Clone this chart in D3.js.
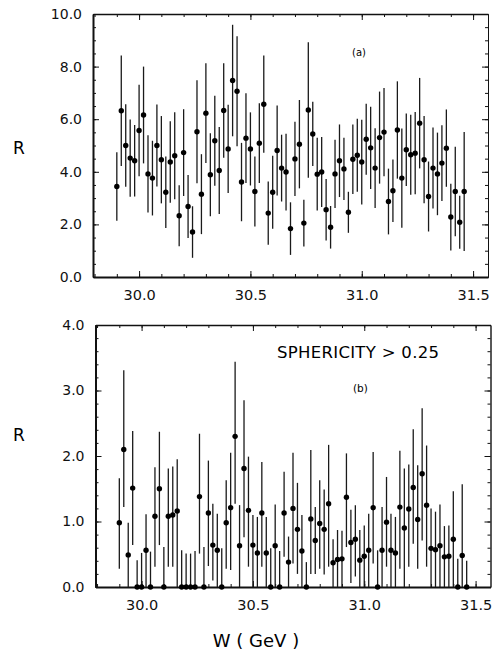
<!DOCTYPE html>
<html lang="en">
<head>
<meta charset="UTF-8">
<title>R vs W</title>
<script src="https://d3js.org/d3.v7.min.js"></script>
<style>
    body {
        margin: 0;
        background: #fff;
        font-family: "DejaVu Sans", sans-serif;
    }
    .axis text {
        font-family: "DejaVu Sans", sans-serif;
        font-size: 14px;
        fill: #111;
    }
    .axis line, .axis path {
        stroke: #111;
    }
</style>
</head>
<body>
<script>
// centre-of-mass energy of each bin (GeV), shared by both panels
const energies = [29.90,29.92,29.94,29.96,29.98,30.00,30.02,30.04,30.06,30.08,
    30.10,30.12,30.14,30.16,30.18,30.20,30.22,30.24,30.26,30.28,
    30.30,30.32,30.34,30.36,30.38,30.40,30.42,30.44,30.46,30.48,
    30.50,30.52,30.54,30.56,30.58,30.60,30.62,30.64,30.66,30.68,
    30.70,30.72,30.74,30.76,30.78,30.80,30.82,30.84,30.86,30.88,
    30.90,30.92,30.94,30.96,30.98,31.00,31.02,31.04,31.06,31.08,
    31.10,31.12,31.14,31.16,31.18,31.20,31.22,31.24,31.26,31.28,
    31.30,31.32,31.34,31.36,31.38,31.40,31.42,31.44,31.46];

// (a) all events
const rAll = [3.44,6.32,5.00,4.52,4.42,5.57,6.16,3.92,3.76,5.00,
    4.46,3.22,4.37,4.61,2.33,4.73,2.68,1.71,5.52,3.15,
    6.23,3.89,5.18,4.05,6.33,4.87,7.47,7.06,3.61,5.28,
    4.87,3.25,5.09,6.57,2.43,3.22,4.81,4.14,3.99,1.84,
    4.49,5.05,2.05,6.35,5.44,3.91,3.99,2.56,1.89,3.92,
    4.42,4.11,2.46,4.48,4.63,4.37,5.24,4.91,4.14,5.30,
    5.51,2.87,3.28,5.59,3.76,4.84,4.65,4.71,5.85,4.46,
    3.06,4.14,3.92,4.33,4.90,2.28,3.25,2.08,3.25];
const errAll = [1.30,2.10,1.57,1.47,1.36,1.74,1.84,1.47,1.42,1.56,
    1.66,1.36,1.55,1.65,1.16,1.65,1.20,0.98,1.96,1.52,
    1.90,1.58,1.71,1.65,1.80,1.68,2.12,2.09,1.49,1.71,
    1.39,1.33,1.52,1.85,1.20,1.39,1.71,1.27,1.46,1.00,
    1.41,1.68,0.89,2.58,1.22,1.38,1.33,1.17,0.81,1.30,
    1.38,1.18,0.78,1.32,1.39,1.61,1.35,1.56,1.52,1.75,
    1.68,1.25,1.19,1.85,1.89,1.38,1.52,1.56,1.72,1.66,
    1.33,1.54,1.57,1.44,1.47,1.27,1.70,1.01,2.26];

const rSph = [0.98,2.10,0.49,1.51,0,0,0.56,0,1.08,1.50,
    0,1.08,1.10,1.16,0,0,0,0,1.38,0,
    1.13,0.64,0.56,0,0.98,1.21,2.30,0.63,1.81,1.17,
    0.64,0.52,1.13,0.52,0,0.63,0,1.13,0.38,1.20,
    0.88,0.55,0,1.04,0.71,0.97,0.88,1.27,0.37,0.42,
    0.43,1.37,0.68,0.73,0.41,0.47,0.56,1.21,0,0.56,
    0.99,0.56,0.52,1.22,0.90,1.19,1.52,1.03,1.73,1.25,
    0.59,0.57,0.63,0.46,0.47,0.73,0,0.48,0];
const sphHi = [1.66,3.31,0.98,2.38,0.41,0.52,1.11,0.54,1.83,2.37,
    0.61,1.81,1.84,1.95,0.56,0.51,0.51,0.55,2.34,0.61,
    1.93,1.27,1.12,0.59,1.63,2.05,3.44,1.25,2.85,1.99,
    1.10,1.07,1.91,1.07,0.59,1.26,0.55,1.76,0.77,2.05,
    1.59,1.10,0.38,2.09,1.22,1.63,1.49,2.17,0.73,0.87,
    0.86,2.04,1.18,1.25,0.87,0.94,1.12,2.06,0.56,1.22,
    1.68,1.12,1.07,2.08,1.81,1.87,2.41,1.86,2.73,2.16,
    1.20,1.15,1.26,0.93,0.94,1.46,0.43,1.57,0.40];
const sphLo = [0.28,1.22,0,0.64,0,0,0,0,0.31,0.64,
    0,0.31,0.31,0,0,0,0,0,0.51,0,
    0.32,0.10,0,0,0.28,0.26,1.27,0,0.76,0.31,
    0,0,0.31,0,0,0,0,0.46,0,0.36,
    0.20,0,0,0.20,0.20,0.28,0.19,0.31,0,0,
    0,0.61,0.06,0.16,0,0,0,0.36,0,0,
    0.31,0,0,0.28,0,0.31,0.66,0.28,0.71,0.31,
    0,0,0,0,0,0,0,0,0];

const xTicks = [30.0, 30.5, 31.0, 31.5];
const yTicksA = [0, 2, 4, 6, 8, 10];
const yTicksB = [0, 1, 2, 3, 4];

const wDomain = [29.793, 31.567];

const svg = d3.select("body").append("svg")
    .attr("width", 493)
    .attr("height", 661);

function drawPanel(cfg) {
    const g = svg.append("g")
        .attr("transform", `translate(${cfg.left},${cfg.top})`);

    const x = d3.scaleLinear().domain(wDomain).range([0, cfg.width]);
    const y = d3.scaleLinear().domain(cfg.yDomain).range([cfg.height, 0]);

    const xMinor = d3.range(29.8, 31.56, 0.1);
    const fmt = d3.format(".1f");

    // bottom axis: minor then major with labels
    g.append("g").attr("class", "axis")
        .attr("transform", `translate(0,${cfg.height})`)
        .call(d3.axisBottom(x).tickValues(xMinor).tickSize(-3).tickSizeOuter(0).tickFormat(""));
    g.append("g").attr("class", "axis")
        .attr("transform", `translate(0,${cfg.height})`)
        .call(d3.axisBottom(x).tickValues(xTicks).tickSize(-6).tickSizeOuter(0)
            .tickPadding(13).tickFormat(fmt))
        .call(a => a.select(".domain").attr("stroke-width", 2))
        .call(a => a.selectAll("text").style("font-size", "14.5px"));

    // top axis, ticks only
    g.append("g").attr("class", "axis")
        .call(d3.axisTop(x).tickValues(xMinor).tickSize(-3).tickSizeOuter(0).tickFormat(""));
    g.append("g").attr("class", "axis")
        .call(d3.axisTop(x).tickValues(xTicks).tickSize(-6).tickSizeOuter(0).tickFormat(""))
        .call(a => a.select(".domain").attr("stroke-width", 1.5));

    // left axis
    g.append("g").attr("class", "axis")
        .call(d3.axisLeft(y).tickValues(cfg.yMinor).tickSize(-3).tickSizeOuter(0).tickFormat(""));
    g.append("g").attr("class", "axis")
        .call(d3.axisLeft(y).tickValues(cfg.yTicks).tickSize(-6).tickSizeOuter(0)
            .tickPadding(11).tickFormat(fmt))
        .call(a => a.select(".domain").attr("stroke-width", 2));

    // right axis, ticks only
    g.append("g").attr("class", "axis")
        .attr("transform", `translate(${cfg.width},0)`)
        .call(d3.axisRight(y).tickValues(cfg.yMinor).tickSize(-3).tickSizeOuter(0).tickFormat(""));
    g.append("g").attr("class", "axis")
        .attr("transform", `translate(${cfg.width},0)`)
        .call(d3.axisRight(y).tickValues(cfg.yTicks).tickSize(-6).tickSizeOuter(0).tickFormat(""))
        .call(a => a.select(".domain").attr("stroke-width", 0.8));

    const pts = energies.map((w, i) => ({w: w, r: cfg.values[i], lo: cfg.lo[i], hi: cfg.hi[i]}));

    // error bars
    g.append("g").selectAll("line")
        .data(pts)
        .enter()
        .append("line")
        .attr("x1", d => x(d.w))
        .attr("x2", d => x(d.w))
        .attr("y1", d => y(Math.max(0, d.lo)))
        .attr("y2", d => y(Math.min(cfg.yDomain[1], d.hi)))
        .attr("stroke", "#1a1a1a")
        .attr("stroke-width", 1.3);

    g.append("g").selectAll("circle")
        .data(pts)
        .enter()
        .append("circle")
        .attr("cx", d => x(d.w))
        .attr("cy", d => y(d.r))
        .attr("r", 2.7)
        .attr("fill", "#000");

    return g;
}

drawPanel({
    left: 93, top: 14, width: 395, height: 263,
    yDomain: [0, 10], yTicks: yTicksA, yMinor: d3.range(0, 10.01, 0.5),
    values: rAll,
    lo: rAll.map((v, i) => v - errAll[i]),
    hi: rAll.map((v, i) => v + errAll[i])
});

drawPanel({
    left: 95.5, top: 325, width: 395, height: 262,
    yDomain: [0, 4], yTicks: yTicksB, yMinor: d3.range(0, 4.01, 0.2),
    values: rSph, lo: sphLo, hi: sphHi
});

// labels
svg.append("text").attr("x", 13).attr("y", 154)
    .style("font-size", "17px").text("R");
svg.append("text").attr("x", 13).attr("y", 441)
    .style("font-size", "17px").text("R");
svg.append("text").attr("x", 256).attr("y", 647).attr("text-anchor", "middle")
    .style("font-size", "18px").text("W ( GeV )");
svg.append("text").attr("x", 352).attr("y", 56)
    .style("font-size", "10px").text("(a)");
svg.append("text").attr("x", 277).attr("y", 358)
    .style("font-size", "16.5px").style("letter-spacing", "0.3px").text("SPHERICITY > 0.25");
svg.append("text").attr("x", 353).attr("y", 392)
    .style("font-size", "10.5px").text("(b)");
</script>
</body>
</html>
